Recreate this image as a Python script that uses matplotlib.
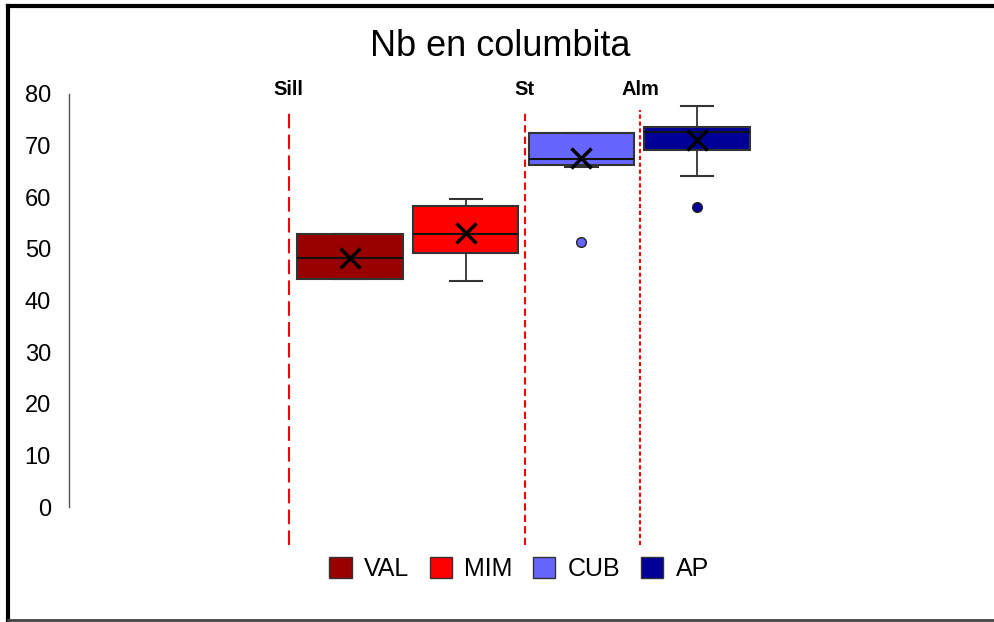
import matplotlib.pyplot as plt
from matplotlib.patches import Patch
from matplotlib.lines import Line2D

plt.rcParams['font.family'] = ['Liberation Sans', 'DejaVu Sans']

# Nb en columbita: resumen por grupo (Q1, mediana, Q3, bigotes, media, atípicos)
groups = ["VAL", "MIM", "CUB", "AP"]
q1 = [44.2, 49.2, 66.2, 69.2]
median = [48.3, 52.9, 67.4, 72.6]
q3 = [52.9, 58.3, 72.4, 73.7]
whis_lo = [44.2, 43.7, 65.8, 64.1]
whis_hi = [52.9, 59.7, 72.5, 77.7]
means = [48.3, 53.1, 67.6, 71.1]
outliers = [[], [], [51.4], [58.2]]
colors = ["#990000", "#ff0000", "#6666ff", "#000099"]

# zonas metamórficas (isógradas) entre grupos
zone_labels = ["Sill", "St", "Alm"]
zone_x = [0.47, 2.51, 3.51]
zone_dashes = [(7, 3), (3.5, 2), (2, 1.3)]

yticks = [0, 10, 20, 30, 40, 50, 60, 70, 80]

W, H = 995, 622
fig = plt.figure(figsize=(W / 100, H / 100), dpi=100)
ax = fig.add_axes([69 / W, 1 - 507 / H, (985 - 69) / W, (507 - 94) / H])

positions = list(range(1, len(groups) + 1))
stats = []
for i, g in enumerate(groups):
    stats.append(dict(label=g, med=median[i], q1=q1[i], q3=q3[i],
                      whislo=whis_lo[i], whishi=whis_hi[i],
                      mean=means[i], fliers=outliers[i]))

edge = "#333333"
bp = ax.bxp(stats, positions=positions, widths=0.91, patch_artist=True,
            showmeans=True, showfliers=True,
            boxprops=dict(edgecolor=edge, linewidth=1.5),
            medianprops=dict(color="#111111", linewidth=1.5),
            whiskerprops=dict(color=edge, linewidth=1.3),
            capprops=dict(color=edge, linewidth=1.5),
            capwidths=0.28,
            meanprops=dict(marker="x", markersize=15, markeredgewidth=2.5,
                           markeredgecolor="black"))
for box, c in zip(bp["boxes"], colors):
    box.set_facecolor(c)
for fl, c in zip(bp["fliers"], colors):
    fl.set(marker="o", markersize=7, markerfacecolor=c,
           markeredgecolor="#222222", markeredgewidth=1)

ax.set_xlim(-1.43, 6.49)
ax.set_ylim(0, 80)
ax.set_yticks(yticks)
ax.set_xticks([])
ax.tick_params(axis="y", length=0, labelsize=17, pad=13)
for s in ["top", "right", "bottom"]:
    ax.spines[s].set_visible(False)
ax.spines["left"].set_color("#555555")
ax.spines["left"].set_linewidth(1)

for lab, x, d in zip(zone_labels, zone_x, zone_dashes):
    ax.plot([x, x], [-7.4, 76.9], color="#ff0000", linewidth=1.5,
            dashes=d, clip_on=False)
    ax.text(x, 80.8, lab, ha="center", va="center", fontsize=14.5,
            fontweight="bold")

fig.text(500 / W, 1 - 46 / H, "Nb en columbita", ha="center", va="center",
         fontsize=26)

handles = [Patch(facecolor=c, edgecolor=edge, linewidth=1) for c in colors]
fig.legend(handles, groups, loc="center", bbox_to_anchor=(519 / W, 1 - 569 / H),
           ncol=4, frameon=False, fontsize=18, handlelength=0.9,
           handleheight=0.9, handletextpad=0.5, columnspacing=0.8)

# marco del gráfico
fig.add_artist(Line2D([8 / W, 8 / W], [1 - 6 / H, 1 - 620 / H], color="black",
                      linewidth=3, transform=fig.transFigure))
fig.add_artist(Line2D([8 / W, 1], [1 - 6 / H, 1 - 6 / H], color="black",
                      linewidth=3, transform=fig.transFigure))
fig.add_artist(Line2D([8 / W, 1], [1 - 620 / H, 1 - 620 / H], color="#444444",
                      linewidth=2, transform=fig.transFigure))

fig.savefig("out.png", dpi=100)
